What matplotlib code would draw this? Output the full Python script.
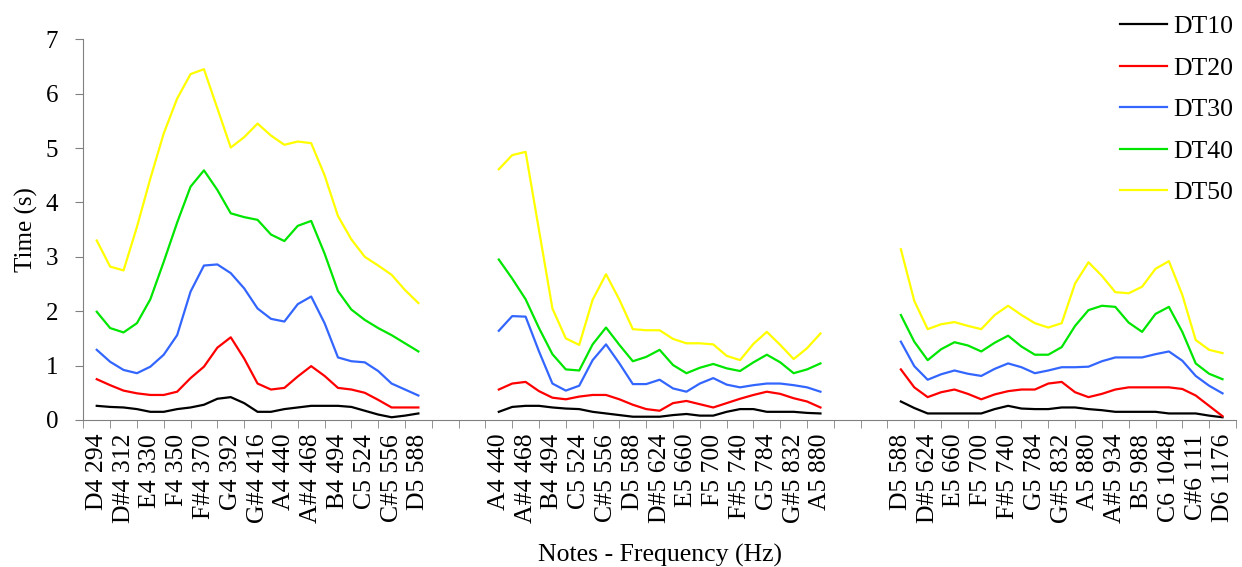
import numpy as np
import matplotlib
matplotlib.use('Agg')
import matplotlib.pyplot as plt

plt.rcParams['font.family'] = ['Liberation Serif', 'DejaVu Serif']

# note labels for the three recorded ranges
notes_low = ['D4 294', 'D#4 312', 'E4 330', 'F4 350', 'F#4 370', 'G4 392', 'G#4 416',
             'A4 440', 'A#4 468', 'B4 494', 'C5 524', 'C#5 556', 'D5 588']
notes_mid = ['A4 440', 'A#4 468', 'B4 494', 'C5 524', 'C#5 556', 'D5 588', 'D#5 624',
             'E5 660', 'F5 700', 'F#5 740', 'G5 784', 'G#5 832', 'A5 880']
notes_high = ['D5 588', 'D#5 624', 'E5 660', 'F5 700', 'F#5 740', 'G5 784', 'G#5 832',
              'A5 880', 'A#5 934', 'B5 988', 'C6 1048', 'C#6 111', 'D6 1176']
group_starts = [0, 15, 30]
n_cats = 43

# values sampled every half note (25 per range)
dt10_low = [0.26, 0.24, 0.23, 0.20, 0.15, 0.15, 0.20, 0.23, 0.28, 0.39, 0.42, 0.31, 0.15,
            0.15, 0.20, 0.23, 0.26, 0.26, 0.26, 0.24, 0.17, 0.10, 0.05, 0.08, 0.12]
dt20_low = [0.75, 0.64, 0.54, 0.49, 0.46, 0.46, 0.52, 0.77, 0.98, 1.33, 1.52, 1.13, 0.67,
            0.56, 0.59, 0.80, 0.99, 0.81, 0.59, 0.56, 0.50, 0.37, 0.23, 0.23, 0.23]
dt30_low = [1.29, 1.07, 0.92, 0.86, 0.98, 1.20, 1.56, 2.36, 2.84, 2.86, 2.70, 2.42, 2.05,
            1.86, 1.81, 2.13, 2.27, 1.78, 1.15, 1.08, 1.06, 0.90, 0.67, 0.56, 0.45]
dt40_low = [1.99, 1.69, 1.61, 1.78, 2.22, 2.91, 3.63, 4.29, 4.59, 4.23, 3.80, 3.73, 3.68,
            3.41, 3.29, 3.57, 3.66, 3.06, 2.37, 2.03, 1.84, 1.69, 1.56, 1.41, 1.26]
dt50_low = [3.30, 2.82, 2.75, 3.55, 4.44, 5.27, 5.91, 6.36, 6.45, 5.73, 5.01, 5.20, 5.45,
            5.23, 5.06, 5.12, 5.09, 4.50, 3.75, 3.32, 3.00, 2.84, 2.67, 2.39, 2.15]

dt10_mid = [0.15, 0.24, 0.26, 0.26, 0.23, 0.21, 0.20, 0.15, 0.12, 0.09, 0.06, 0.06, 0.06,
            0.09, 0.11, 0.08, 0.08, 0.15, 0.20, 0.20, 0.15, 0.15, 0.15, 0.13, 0.12]
dt20_mid = [0.56, 0.67, 0.70, 0.53, 0.41, 0.38, 0.43, 0.46, 0.46, 0.38, 0.28, 0.20, 0.17,
            0.31, 0.35, 0.29, 0.23, 0.31, 0.39, 0.46, 0.52, 0.48, 0.40, 0.34, 0.23]
dt30_mid = [1.64, 1.91, 1.90, 1.26, 0.67, 0.54, 0.63, 1.10, 1.39, 1.04, 0.66, 0.66, 0.74,
            0.58, 0.52, 0.67, 0.77, 0.65, 0.60, 0.64, 0.67, 0.67, 0.64, 0.60, 0.52]
dt40_mid = [2.95, 2.60, 2.22, 1.69, 1.21, 0.93, 0.91, 1.39, 1.70, 1.38, 1.08, 1.16, 1.29,
            1.01, 0.86, 0.96, 1.03, 0.95, 0.90, 1.06, 1.20, 1.06, 0.86, 0.93, 1.04]
dt50_mid = [4.61, 4.87, 4.93, 3.49, 2.05, 1.50, 1.38, 2.21, 2.68, 2.21, 1.67, 1.65, 1.65,
            1.49, 1.41, 1.41, 1.39, 1.18, 1.10, 1.40, 1.62, 1.38, 1.12, 1.32, 1.59]

dt10_high = [0.34, 0.22, 0.12, 0.12, 0.12, 0.12, 0.12, 0.20, 0.26, 0.21, 0.20, 0.20, 0.23,
             0.23, 0.20, 0.18, 0.15, 0.15, 0.15, 0.15, 0.12, 0.12, 0.12, 0.08, 0.05]
dt20_high = [0.93, 0.60, 0.42, 0.51, 0.56, 0.48, 0.38, 0.47, 0.53, 0.56, 0.56, 0.67, 0.70,
             0.51, 0.42, 0.48, 0.56, 0.60, 0.60, 0.60, 0.60, 0.57, 0.45, 0.26, 0.07]
dt30_high = [1.44, 0.99, 0.74, 0.84, 0.91, 0.85, 0.81, 0.94, 1.04, 0.97, 0.86, 0.91, 0.97,
             0.97, 0.98, 1.08, 1.15, 1.15, 1.15, 1.21, 1.26, 1.09, 0.81, 0.63, 0.49]
dt40_high = [1.93, 1.44, 1.10, 1.30, 1.43, 1.37, 1.26, 1.42, 1.55, 1.35, 1.20, 1.20, 1.34,
             1.73, 2.02, 2.10, 2.08, 1.79, 1.62, 1.95, 2.08, 1.62, 1.04, 0.85, 0.75]
dt50_high = [3.14, 2.19, 1.67, 1.76, 1.80, 1.73, 1.67, 1.93, 2.10, 1.93, 1.78, 1.70, 1.78,
             2.51, 2.90, 2.65, 2.35, 2.33, 2.45, 2.78, 2.92, 2.30, 1.47, 1.29, 1.23]

series_names = ['DT10', 'DT20', 'DT30', 'DT40', 'DT50']
series_low = [dt10_low, dt20_low, dt30_low, dt40_low, dt50_low]
series_mid = [dt10_mid, dt20_mid, dt30_mid, dt40_mid, dt50_mid]
series_high = [dt10_high, dt20_high, dt30_high, dt40_high, dt50_high]
colors = ['#000000', '#ff0000', '#3366ff', '#00e600', '#ffff00']

fig = plt.figure(figsize=(12.42, 5.67), dpi=100)
ax = fig.add_axes([0.0671, 0.2593, 0.928, 0.6714])

for k, name in enumerate(series_names):
    for g, groups in enumerate([series_low, series_mid, series_high]):
        vals = groups[k]
        x = group_starts[g] + 0.5 * np.arange(len(vals))
        ax.plot(x, vals, color=colors[k], lw=1.6, label=name if g == 0 else None)

ax.set_xlim(-0.5, n_cats - 0.5)
ax.set_ylim(0, 7)
ax.set_yticks(range(8))

positions, labels = [], []
for start, notes in zip(group_starts, [notes_low, notes_mid, notes_high]):
    positions += [start + i for i in range(len(notes))]
    labels += notes
ax.set_xticks(positions)
ax.set_xticklabels(labels, rotation=90, fontsize=18.5)
ax.set_xticks(np.arange(-0.5, n_cats), minor=True)
ax.tick_params(axis='x', which='major', length=0, pad=10)
ax.tick_params(axis='x', which='minor', length=6, color='#808080')
ax.tick_params(axis='y', length=6, color='#808080', labelsize=18, pad=12)

for s in ['top', 'right']:
    ax.spines[s].set_visible(False)
for s in ['left', 'bottom']:
    ax.spines[s].set_color('#808080')

ax.set_ylabel('Time (s)', fontsize=18, labelpad=6)
ax.set_xlabel('Notes - Frequency (Hz)', fontsize=18.5, labelpad=15)

fig.legend(loc='upper right', bbox_to_anchor=(0.993, 0.973), frameon=False, fontsize=18.5,
           handlelength=1.85, handletextpad=0.23, labelspacing=0.72, borderaxespad=0,
           borderpad=0)

fig.savefig('out.png', dpi=100)
